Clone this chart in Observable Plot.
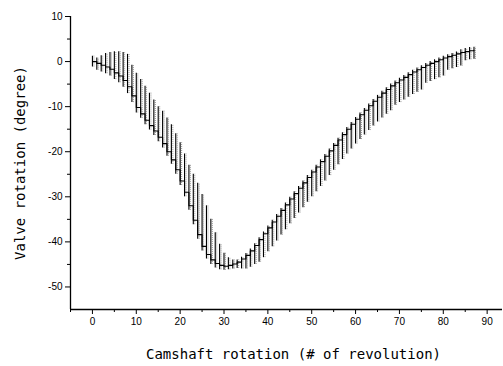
<!DOCTYPE html>
<html><head><meta charset="utf-8">
<script src="https://cdn.jsdelivr.net/npm/d3@7"></script>
<script src="https://cdn.jsdelivr.net/npm/@observablehq/plot@0.6"></script>
<style>body{margin:0;background:#fff}</style>
</head><body><div id="chart"></div>
<script>
const revolutions = [0,1,2,3,4,5,6,7,8,9,10,11,12,13,14,15,16,17,18,19,20,21,22,23,24,25,26,27,28,29,30,31,32,33,34,35,36,37,38,39,40,41,42,43,44,45,46,47,48,49,50,51,52,53,54,55,56,57,58,59,60,61,62,63,64,65,66,67,68,69,70,71,72,73,74,75,76,77,78,79,80,81,82,83,84,85,86,87];
const means = [0,-0.4,-0.8,-1.2,-1.7,-2.5,-3.2,-4.2,-5.6,-7.6,-10.2,-11.6,-13,-14.2,-15.4,-16.8,-18.2,-20,-21.8,-24,-26.5,-29,-32,-35.2,-38.4,-41,-42.8,-44,-44.8,-45.2,-45.4,-45.2,-44.9,-44.5,-43.8,-43,-42,-40.8,-39.5,-38.2,-36.9,-35.6,-34.3,-33,-31.8,-30.5,-29.3,-28.1,-26.9,-25.7,-24.5,-23.4,-22.2,-21,-19.8,-18.6,-17.4,-16.2,-15,-13.9,-12.8,-11.8,-10.8,-9.8,-8.8,-7.9,-7,-6.2,-5.4,-4.7,-4.1,-3.5,-2.9,-2.3,-1.8,-1.3,-0.8,-0.4,0,0.4,0.8,1.1,1.4,1.7,2,2.2,2.4,2.5];
const highs = [1.2,0.8,1.3,1.8,2,2.2,2.2,2.0,1.6,-0.8,-2.6,-4,-5.5,-7,-8.5,-10,-11,-12.5,-14,-16,-18,-20.5,-23,-25,-27,-29.5,-32,-35,-38,-40.5,-42.5,-43.5,-44,-44,-43.4,-42.6,-41.6,-40.4,-39.1,-37.8,-36.5,-35.2,-33.9,-32.6,-31.4,-30.1,-28.9,-27.7,-26.5,-25.3,-24.1,-23,-21.8,-20.6,-19.4,-18.2,-17,-15.8,-14.6,-13.5,-12.4,-11.4,-10.4,-9.4,-8.4,-7.5,-6.6,-5.8,-5,-4.3,-3.7,-3.1,-2.5,-1.9,-1.4,-0.9,-0.4,0,0.4,0.8,1.2,1.5,1.8,2.1,2.6,2.9,3.1,3.2];
const lows = [-1.2,-1.9,-2.3,-2.7,-3.2,-4.0,-4.7,-5.7,-7.1,-9.1,-11.4,-12.6,-14,-15.2,-16.4,-17.8,-19.2,-21,-22.8,-25,-27.5,-30,-33,-36.2,-39.4,-42,-43.8,-45,-45.8,-46.2,-46.3,-46.2,-46,-45.9,-46,-46,-45.6,-45,-44.5,-43.5,-42.2,-41.1,-39.8,-38.5,-37.3,-36,-34.8,-33.6,-32.4,-31.2,-30,-28.9,-27.7,-26.5,-25.3,-24.1,-22.9,-21.7,-20.5,-19.4,-18.3,-17.3,-16.3,-15.3,-14.3,-13.4,-12.5,-11.7,-10.9,-9.7,-9.1,-8.5,-7.9,-7.3,-6.8,-6.3,-4.8,-4.4,-4,-3.6,-3.2,-1.9,-1.6,-1.3,-1,0.2,0.4,0.5];
const xTicks = [0,10,20,30,40,50,60,70,80,90];
const xMinorTicks = [-5,5,15,25,35,45,55,65,75,85];
const yTicks = [10,0,-10,-20,-30,-40,-50];
const yMinorTicks = [5,-5,-15,-25,-35,-45];
const xTitle = "Camshaft rotation (# of revolution)";
const yTitle = "Valve rotation (degree)";

const data = revolutions.map((x, i) => ({x, m: means[i], lo: lows[i], hi: highs[i]}));
const titleFont = "DejaVu Sans Mono, monospace";
const plain = d => String(d);

const chart = Plot.plot({
  width: 503, height: 366,
  marginLeft: 70, marginRight: 1, marginTop: 16, marginBottom: 57,
  style: {fontFamily: "Liberation Sans, Arial, sans-serif", fontSize: "10px", background: "#fff", color: "#000"},
  x: {domain: [-5, 93.5]},
  y: {domain: [-55, 10]},
  marks: [
    Plot.axisX({ticks: xTicks, tickSize: 5, tickPadding: 3, tickFormat: plain, label: null, fontSize: 10}),
    Plot.axisX({ticks: xMinorTicks, tickSize: 3, tickFormat: () => "", label: null}),
    Plot.axisY({ticks: yTicks, tickSize: 5, tickPadding: 3, tickFormat: plain, label: null, fontSize: 10}),
    Plot.axisY({ticks: yMinorTicks, tickSize: 3, tickFormat: () => "", label: null}),
    Plot.ruleX([-5], {stroke: "#000", strokeWidth: 1.3}),
    Plot.ruleY([-55], {stroke: "#000", strokeWidth: 1.3}),
    Plot.ruleX(data, {x: "x", y1: "lo", y2: "hi", stroke: "#888", strokeWidth: 0.9, strokeDasharray: "1,1", dx: 1.5}),
    Plot.ruleX(data, {x: "x", y1: "lo", y2: "hi", stroke: "#000", strokeWidth: 1.1}),
    Plot.line(data, {x: "x", y: "m", curve: "step-after", stroke: "#000", strokeWidth: 1.1}),
    Plot.text([xTitle], {text: d => d, frameAnchor: "bottom", dy: 49, dx: 7, fontFamily: titleFont, fontSize: 14, fill: "#000"}),
    Plot.text([yTitle], {text: d => d, frameAnchor: "left", textAnchor: "middle", rotate: -90, dx: -50, fontFamily: titleFont, fontSize: 14, fill: "#000"})
  ]
});
document.getElementById("chart").appendChild(chart);
</script>
</body></html>
